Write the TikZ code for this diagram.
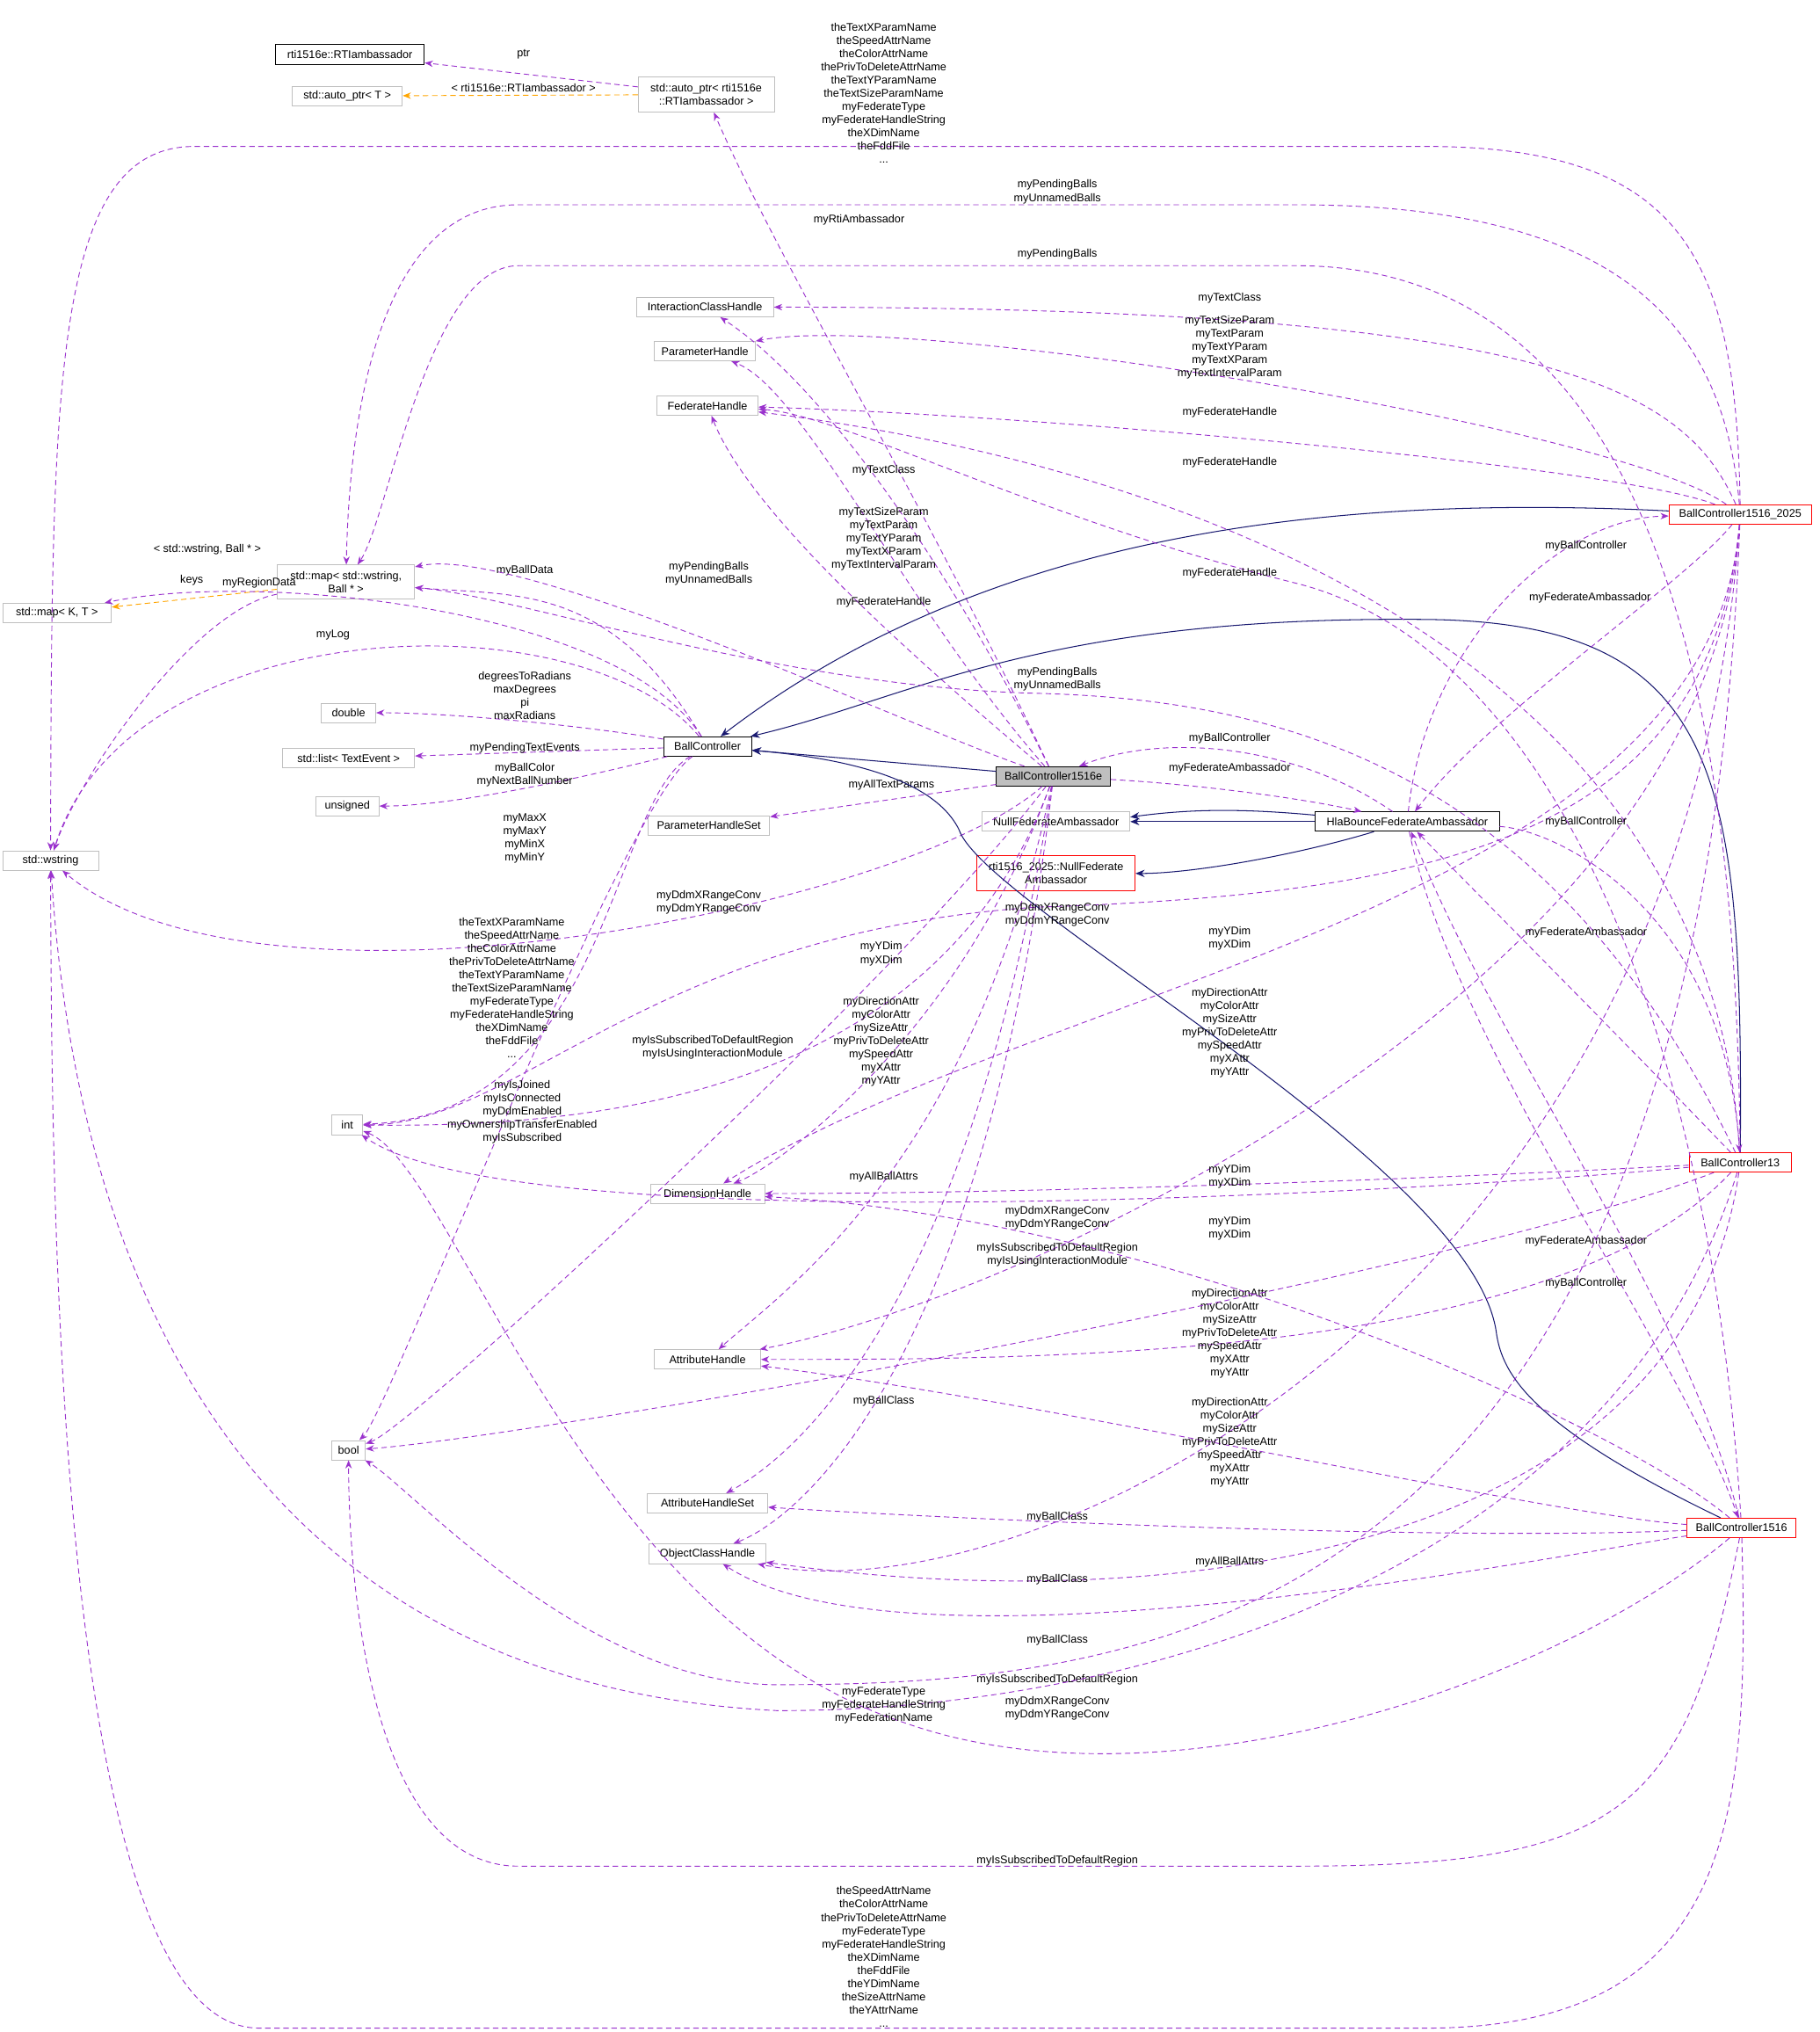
\documentclass[tikz,border=0pt]{standalone}
\usepackage{fontspec}
\setmainfont{Liberation Sans}
\usetikzlibrary{arrows.meta}
\definecolor{dep}{HTML}{9A32CD}
\definecolor{inh}{HTML}{191970}
\definecolor{tmpl}{HTML}{FFA500}
\definecolor{gb}{HTML}{BFBFBF}
\begin{document}
\begin{tikzpicture}[x=0.05cm,y=-0.05cm,
  every node/.style={font=\fontsize{12.2}{14.5}\selectfont},
  box/.style={draw=gb,fill=white,minimum height=0.75cm,inner sep=1pt,align=center,line width=0.8pt},
  bbox/.style={box,draw=black},
  rbox/.style={box,draw=red},
  lbl/.style={align=center,inner sep=0pt,fill=none},
  dep/.style={draw=dep,dash pattern=on 6pt off 4pt,line width=0.9pt,-{Stealth[length=9pt,width=7pt]}},
  inh/.style={draw=inh,line width=1pt,-{Stealth[length=10pt,width=8pt]}},
  tmp/.style={draw=tmpl,dash pattern=on 6pt off 4pt,line width=0.9pt,-{Stealth[length=9pt,width=7pt]}}]
\useasboundingbox (0,0) rectangle (1404,1568);
% nodes
\node[bbox,minimum width=5.75cm] (rti) at (270,42) {rti1516e::RTIambassador};
\node[box,minimum width=4.25cm] (apT) at (268,74) {std::auto\_ptr< T >};
\node[box,minimum width=5.25cm,minimum height=1.35cm] (ap) at (545,73) {std::auto\_ptr< rti1516e\\::RTIambassador >};
\node[box,minimum width=5.3cm] (ich) at (544,237) {InteractionClassHandle};
\node[box,minimum width=3.9cm] (ph) at (544,271) {ParameterHandle};
\node[box,minimum width=3.9cm] (fh) at (546,313) {FederateHandle};
\node[box,minimum width=5.3cm,minimum height=1.3cm] (mapW) at (267,449) {std::map< std::wstring,\\Ball * >};
\node[box,minimum width=4.2cm] (mapKT) at (44,473) {std::map< K, T >};
\node[box,minimum width=2.1cm] (dbl) at (269,550) {double};
\node[box,minimum width=5.1cm] (lst) at (269,585) {std::list< TextEvent >};
\node[box,minimum width=2.45cm] (uns) at (268,622) {unsigned};
\node[box,minimum width=3.7cm] (wstr) at (39,664) {std::wstring};
\node[bbox,minimum width=3.4cm] (bc) at (546,576) {BallController};
\node[bbox,minimum width=4.4cm,fill=gb] (e) at (813,599) {BallController1516e};
\node[box,minimum width=4.7cm] (phs) at (547,637) {ParameterHandleSet};
\node[box,minimum width=5.7cm] (null) at (815,634) {NullFederateAmbassador};
\node[bbox,minimum width=7.1cm] (hla) at (1086,634) {HlaBounceFederateAmbassador};
\node[rbox,minimum width=6.1cm,minimum height=1.35cm] (rnull) at (815,674) {rti1516\_2025::NullFederate\\Ambassador};
\node[box,minimum width=1.2cm] (int) at (268,868) {int};
\node[box,minimum width=4.4cm] (dh) at (546,921) {DimensionHandle};
\node[box,minimum width=4.1cm] (ah) at (546,1049) {AttributeHandle};
\node[box,minimum width=1.3cm] (bool) at (269,1119) {bool};
\node[box,minimum width=4.65cm] (ahs) at (546,1160) {AttributeHandleSet};
\node[box,minimum width=4.5cm] (och) at (546,1199) {ObjectClassHandle};
\node[rbox,minimum width=5.5cm] (b25) at (1343,397) {BallController1516\_2025};
\node[rbox,minimum width=3.95cm] (b13) at (1343,897) {BallController13};
\node[rbox,minimum width=4.2cm] (b16) at (1344,1179) {BallController1516};

% templates / simple
\draw[dep] (ap) -- (rti); \node[lbl] at (404,42) {ptr};
\draw[tmp] (ap) -- (apT); \node[lbl] at (404,68) {< rti1516e::RTIambassador >};
\draw[tmp] (mapW) -- (mapKT); \node[lbl] at (160,424) {< std::wstring, Ball * >};
\draw[dep] (mapW) .. controls (150,470) and (60,600) .. (wstr); \node[lbl] at (148,448) {keys};

% BallController
\draw[dep] (bc) .. controls (480,470) and (200,440) .. (mapKT); \node[lbl] at (200,450) {myRegionData};
\draw[dep] (bc) .. controls (470,450) and (400,460) .. (mapW); \node[lbl] at (405,440) {myBallData};
\draw[dep] (bc) .. controls (450,460) and (100,470) .. (wstr); \node[lbl] at (257,490) {myLog};
\draw[dep] (bc) .. controls (450,560) and (350,550) .. (dbl); \node[lbl] at (405,537) {degreesToRadians\\maxDegrees\\pi\\maxRadians};
\draw[dep] (bc) -- (lst); \node[lbl] at (405,577) {myPendingTextEvents};
\draw[dep] (bc) .. controls (450,600) and (350,622) .. (uns); \node[lbl] at (405,598) {myBallColor\\myNextBallNumber};
\draw[dep] (bc) .. controls (470,620) and (470,860) .. (int); \node[lbl] at (405,647) {myMaxX\\myMaxY\\myMinX\\myMinY};
\draw[dep] (bc) .. controls (480,620) and (300,1090) .. (bool);

% BallController1516e
\draw[dep] (e) .. controls (720,400) and (600,200) .. (ap); \node[lbl] at (663,170) {myRtiAmbassador};
\draw[dep] (e) .. controls (740,450) and (640,300) .. (ich); \node[lbl] at (682,363) {myTextClass};
\draw[dep] (e) .. controls (700,470) and (620,300) .. (ph); \node[lbl] at (682,416) {myTextSizeParam\\myTextParam\\myTextYParam\\myTextXParam\\myTextIntervalParam};
\draw[dep] (e) .. controls (720,520) and (580,400) .. (fh); \node[lbl] at (682,465) {myFederateHandle};
\draw[dep] (e) .. controls (700,560) and (400,420) .. (mapW); \node[lbl] at (547,443) {myPendingBalls\\myUnnamedBalls};
\draw[dep] (e) .. controls (700,700) and (200,800) .. (wstr); \node[lbl] at (395,762) {theTextXParamName\\theSpeedAttrName\\theColorAttrName\\thePrivToDeleteAttrName\\theTextYParamName\\theTextSizeParamName\\myFederateType\\myFederateHandleString\\theXDimName\\theFddFile\\...};
\draw[dep] (e) -- (phs); \node[lbl] at (688,606) {myAllTextParams};
\draw[dep] (e) .. controls (720,850) and (450,870) .. (int); \node[lbl] at (403,858) {myIsJoined\\myIsConnected\\myDdmEnabled\\myOwnershipTransferEnabled\\myIsSubscribed};
\draw[dep] (e) .. controls (700,750) and (320,1100) .. (bool); \node[lbl] at (550,808) {myIsSubscribedToDefaultRegion\\myIsUsingInteractionModule};
\node[lbl] at (547,696) {myDdmXRangeConv\\myDdmYRangeConv};
\draw[dep] (e) .. controls (740,800) and (600,900) .. (dh); \node[lbl] at (680,736) {myYDim\\myXDim};
\draw[dep] (e) .. controls (750,900) and (600,1000) .. (ah); \node[lbl] at (680,804) {myDirectionAttr\\myColorAttr\\mySizeAttr\\myPrivToDeleteAttr\\mySpeedAttr\\myXAttr\\myYAttr};
\draw[dep] (e) .. controls (750,1000) and (620,1120) .. (ahs); \node[lbl] at (682,908) {myAllBallAttrs};
\draw[dep] (e) .. controls (760,1050) and (620,1170) .. (och); \node[lbl] at (682,1081) {myBallClass};
\draw[dep] (e) .. controls (920,605) and (1000,615) .. (hla); \node[lbl] at (949,593) {myFederateAmbassador};
\draw[dep] (hla) .. controls (1000,575) and (900,565) .. (e); \node[lbl] at (949,570) {myBallController};
\draw[inh] (e) -- (bc);

% inheritance
\draw[inh] (hla) -- (null);
\draw[inh] (hla.west) ++(0,-5) .. controls (960,624) and (920,624) .. ([yshift=5pt]null.east);
\draw[inh] (hla) .. controls (1000,660) and (920,674) .. (rnull);
\draw[inh] (b25) .. controls (1000,380) and (750,420) .. (bc);
\draw[inh] (b13) .. controls (1345,600) and (1330,480) .. (1100,478) .. controls (800,475) and (700,540) .. (bc);
\draw[inh] (b16) .. controls (1180,1100) and (1160,1060) .. (1155,1030) .. controls (1140,900) and (760,700) .. (740,640) .. controls (720,600) and (650,585) .. (bc);

% BallController1516_2025
\draw[dep] (b25) .. controls (1340,200) and (1300,113) .. (1100,113) -- (150,113) .. controls (40,113) and (40,300) .. (wstr);
\node[lbl] at (682,72) {theTextXParamName\\theSpeedAttrName\\theColorAttrName\\thePrivToDeleteAttrName\\theTextYParamName\\theTextSizeParamName\\myFederateType\\myFederateHandleString\\theXDimName\\theFddFile\\...};
\draw[dep] (b25) .. controls (1330,250) and (1250,158) .. (1000,158) -- (400,158) .. controls (300,158) and (270,300) .. (mapW); \node[lbl] at (816,148) {myPendingBalls\\myUnnamedBalls};
\draw[dep] (b25) .. controls (1300,300) and (1200,237) .. (ich); \node[lbl] at (949,230) {myTextClass};
\draw[dep] (b25) .. controls (1250,330) and (700,240) .. (ph); \node[lbl] at (949,268) {myTextSizeParam\\myTextParam\\myTextYParam\\myTextXParam\\myTextIntervalParam};
\draw[dep] (b25) .. controls (1250,360) and (800,320) .. (fh); \node[lbl] at (949,318) {myFederateHandle};
\draw[dep] (b25) .. controls (1300,450) and (1150,550) .. (hla); \node[lbl] at (1227,461) {myFederateAmbassador};
\draw[dep] (hla) .. controls (1100,500) and (1200,400) .. (b25); \node[lbl] at (1224,421) {myBallController};
\draw[dep] (b25) .. controls (1320,650) and (1100,690) .. (800,700) .. controls (500,720) and (400,868) .. (int); \node[lbl] at (816,706) {myDdmXRangeConv\\myDdmYRangeConv};
\draw[dep] (b25) .. controls (1320,700) and (800,760) .. (dh); \node[lbl] at (949,724) {myYDim\\myXDim};
\draw[dep] (b25) .. controls (1320,750) and (800,1000) .. (ah); \node[lbl] at (949,797) {myDirectionAttr\\myColorAttr\\mySizeAttr\\myPrivToDeleteAttr\\mySpeedAttr\\myXAttr\\myYAttr};
\draw[dep] (b25) .. controls (1300,1000) and (800,1250) .. (och); \node[lbl] at (816,1171) {myBallClass};
\draw[dep] (b25) .. controls (1310,1250) and (900,1300) .. (600,1300) .. controls (450,1300) and (320,1150) .. (bool); \node[lbl] at (816,1296) {myIsSubscribedToDefaultRegion};

% BallController13
\draw[dep] (b13) .. controls (1340,600) and (1300,205) .. (1000,205) -- (400,205) .. controls (330,205) and (300,400) .. (mapW); \node[lbl] at (816,196) {myPendingBalls};
\draw[dep] (b13) .. controls (1320,500) and (900,357) .. (fh); \node[lbl] at (949,357) {myFederateHandle};
\draw[dep] (b13) .. controls (1200,600) and (1000,540) .. (800,535) .. controls (600,530) and (400,460) .. (mapW); \node[lbl] at (816,524) {myPendingBalls\\myUnnamedBalls};
\draw[dep] (b13) .. controls (1250,800) and (1150,700) .. (hla); \node[lbl] at (1224,720) {myFederateAmbassador};
\draw[dep] (hla) .. controls (1200,640) and (1330,700) .. (b13); \node[lbl] at (1224,634) {myBallController};
\draw[dep] (b13) .. controls (1100,920) and (400,960) .. (int); \node[lbl] at (816,940) {myDdmXRangeConv\\myDdmYRangeConv};
\draw[dep] (b13) .. controls (1100,910) and (800,921) .. (dh); \node[lbl] at (949,908) {myYDim\\myXDim};
\draw[dep] (b13) .. controls (1200,1050) and (800,1049) .. (ah); \node[lbl] at (949,1029) {myDirectionAttr\\myColorAttr\\mySizeAttr\\myPrivToDeleteAttr\\mySpeedAttr\\myXAttr\\myYAttr};
\draw[dep] (b13) .. controls (1100,990) and (400,1110) .. (bool); \node[lbl] at (816,968) {myIsSubscribedToDefaultRegion\\myIsUsingInteractionModule};
\draw[dep] (b13) .. controls (1300,1200) and (900,1250) .. (och); \node[lbl] at (816,1219) {myBallClass};
\draw[dep] (b13) .. controls (1250,1200) and (900,1320) .. (600,1320) .. controls (200,1300) and (60,1000) .. (wstr);

% BallController1516
\draw[dep] (b16) .. controls (1350,1400) and (1340,1565) .. (1100,1565) -- (200,1565) .. controls (40,1565) and (40,900) .. (wstr);
\node[lbl] at (682,1510) {theSpeedAttrName\\theColorAttrName\\thePrivToDeleteAttrName\\myFederateType\\myFederateHandleString\\theXDimName\\theFddFile\\theYDimName\\theSizeAttrName\\theYAttrName\\...};
\draw[dep] (b16) .. controls (1320,800) and (1200,500) .. (1000,450) .. controls (800,400) and (650,320) .. (fh); \node[lbl] at (949,442) {myFederateHandle};
\draw[dep] (b16) .. controls (1300,1000) and (1150,800) .. (hla); \node[lbl] at (1224,958) {myFederateAmbassador};
\draw[dep] (hla) .. controls (1120,800) and (1300,1050) .. (b16); \node[lbl] at (1224,990) {myBallController};
\draw[dep] (b16) .. controls (1250,1100) and (900,940) .. (dh); \node[lbl] at (949,948) {myYDim\\myXDim};
\draw[dep] (b16) .. controls (1200,1170) and (800,1080) .. (ah); \node[lbl] at (949,1113) {myDirectionAttr\\myColorAttr\\mySizeAttr\\myPrivToDeleteAttr\\mySpeedAttr\\myXAttr\\myYAttr};
\draw[dep] (b16) .. controls (1100,1190) and (700,1170) .. (ahs); \node[lbl] at (949,1205) {myAllBallAttrs};
\draw[dep] (b16) .. controls (1200,1200) and (700,1300) .. (och); \node[lbl] at (816,1266) {myBallClass};
\draw[dep] (b16) .. controls (1200,1300) and (900,1400) .. (700,1330) .. controls (450,1250) and (350,900) .. (int); \node[lbl] at (682,1316) {myFederateType\\myFederateHandleString\\myFederationName};
\node[lbl] at (816,1318) {myDdmXRangeConv\\myDdmYRangeConv};
\draw[dep] (b16) .. controls (1300,1400) and (1250,1440) .. (1000,1440) -- (400,1440) .. controls (280,1440) and (269,1200) .. (bool); \node[lbl] at (816,1436) {myIsSubscribedToDefaultRegion};
\end{tikzpicture}
\end{document}
